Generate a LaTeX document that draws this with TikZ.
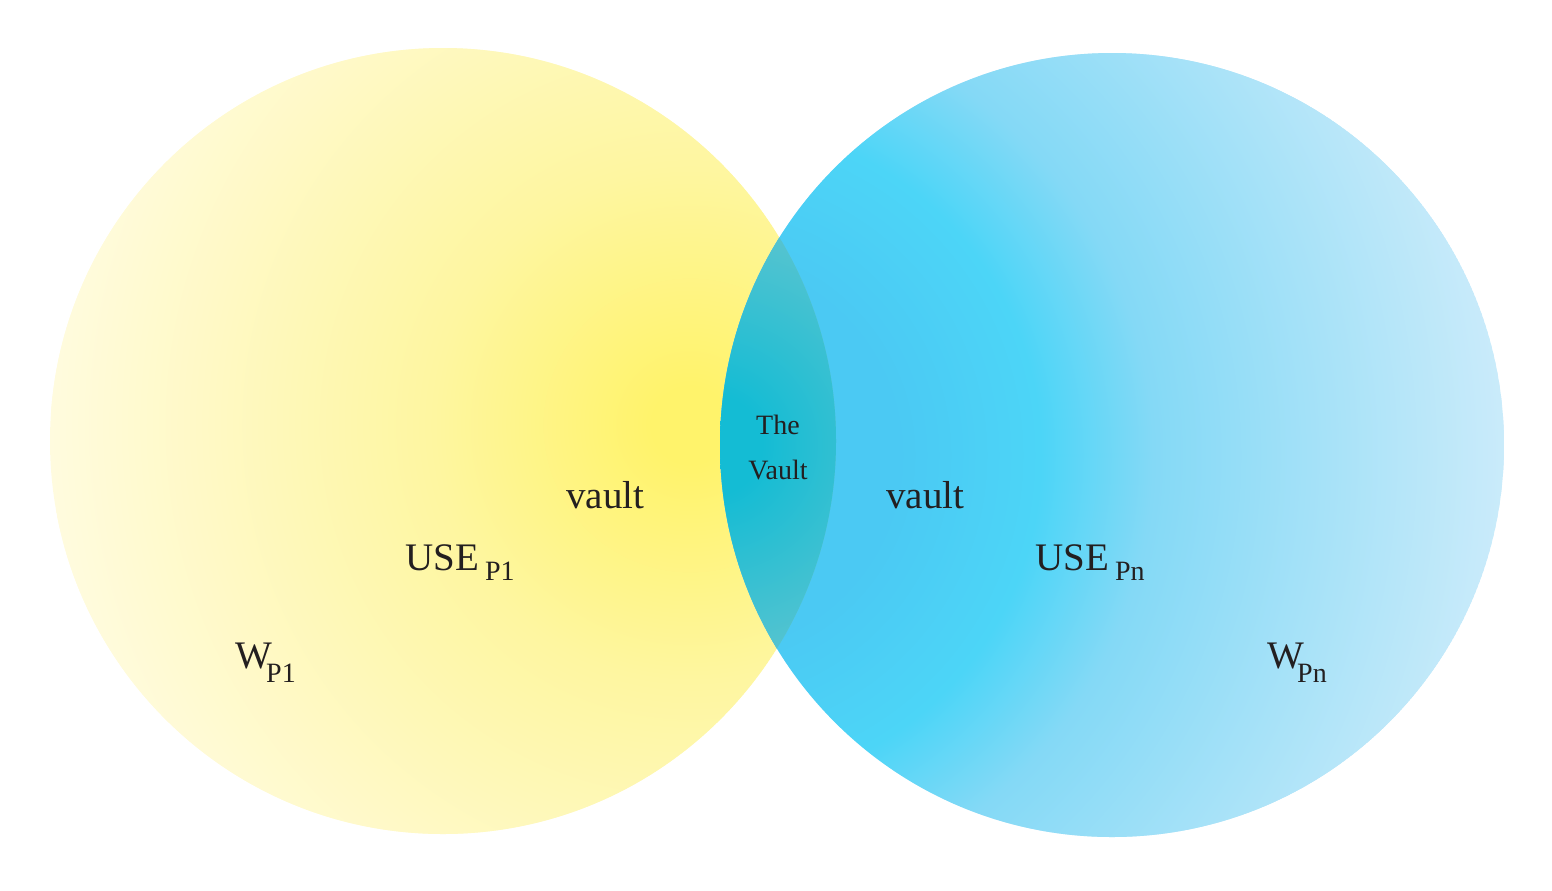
\documentclass[tikz,border=0pt]{standalone}
\usepackage{fontspec}
\setmainfont{Liberation Serif}
\definecolor{Yzero}{HTML}{FFF36B}
\definecolor{Ymid}{HTML}{FEF6A0}
\definecolor{Yone}{HTML}{FFFBDE}
\definecolor{Bin}{HTML}{4BC9F3}
\definecolor{Bzero}{HTML}{4CD5F7}
\definecolor{Bmid}{HTML}{84D9F6}
\definecolor{Bone}{HTML}{CAEBFA}
\definecolor{Lzero}{HTML}{14BCD4}
\definecolor{Lone}{HTML}{62C5CF}
\definecolor{ink}{HTML}{231F20}
\pgfdeclareradialshading{yelshade}{\pgfpoint{0bp}{0bp}}{color(0bp)=(Yzero); color(3bp)=(Yzero); color(20bp)=(Ymid); color(50bp)=(Yone)}
\pgfdeclareradialshading{blushade}{\pgfpoint{0bp}{0bp}}{color(0bp)=(Bin); color(12bp)=(Bin); color(21bp)=(Bzero); color(28bp)=(Bmid); color(50bp)=(Bone)}
\pgfdeclareradialshading{lensshade}{\pgfpoint{0bp}{0bp}}{color(0bp)=(Lzero); color(10bp)=(Lzero); color(50bp)=(Lone)}
\newcommand{\mysub}[2]{\raisebox{-#1}{\fontsize{14}{16}\selectfont #2}}
\tikzset{
  lbl/.style={anchor=base west, inner sep=0pt, text=ink, font=\fontsize{19.5}{22}\selectfont},
  small/.style={anchor=base, inner sep=0pt, text=ink, font=\fontsize{14}{16}\selectfont},
  shadenode/.style={inner sep=0pt, outer sep=0pt, transform shape, scale=#1}
}
\begin{document}
\begin{tikzpicture}[x=0.5pt,y=-0.5pt]
\useasboundingbox (0,0) rectangle (1552,890);
% left circle (shading radius 640px -> 320pt -> scale 320/50.1875)
\begin{scope}
  \clip (443,441) circle (393);
  \fill[Yone] (443,441) circle (393);
  \node[shadenode=6.376] (ys) at (690,425) {\pgfuseshading{yelshade}};
\end{scope}
% right circle (radius 800px)
\begin{scope}
  \clip (1112,445) circle (392);
  \fill[Bone] (1112,445) circle (392);
  \node[shadenode=7.970] (bs) at (705,455) {\pgfuseshading{blushade}};
\end{scope}
% lens (radius 250px)
\begin{scope}
  \clip (443,441) circle (393);
  \clip (1112,445) circle (392);
  \fill[Lone] (778,443) circle (400);
  \node[shadenode=2.491] (ls) at (712,445) {\pgfuseshading{lensshade}};
\end{scope}
\node[small] (the) at (778,434) {The};
\node[small] (vlt) at (778,479) {Vault};
\node[lbl] (v1) at (566,508) {vault};
\node[lbl] (v2) at (886,508) {vault};
\node[lbl] (u1) at (405,570) {USE\hspace{3pt}\mysub{5pt}{P1}};
\node[lbl] (u2) at (1035,570) {USE\hspace{3pt}\mysub{5pt}{Pn}};
\node[lbl] (w1) at (235,668) {W\hspace{-3pt}\mysub{7pt}{P1}};
\node[lbl] (w2) at (1267,668) {W\hspace{-3.5pt}\mysub{7pt}{Pn}};
\end{tikzpicture}
\end{document}
